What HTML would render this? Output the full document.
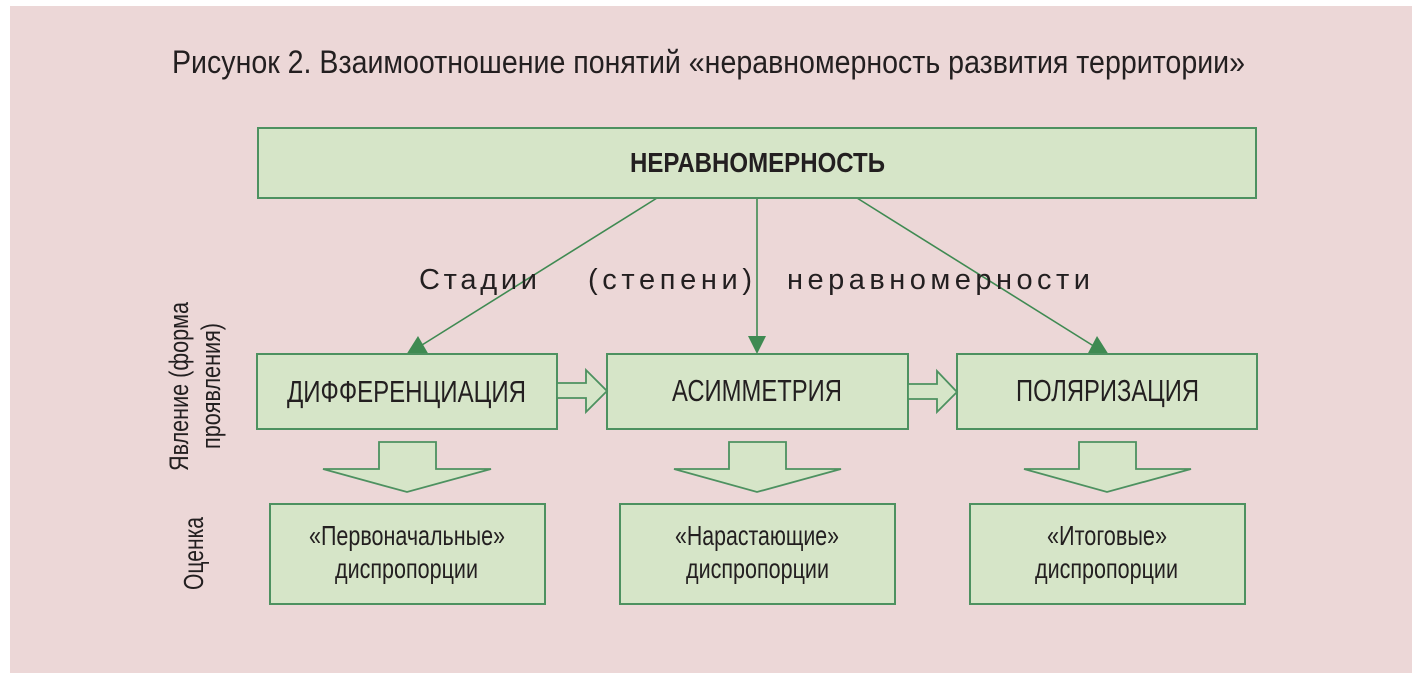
<!DOCTYPE html>
<html>
<head>
<meta charset="utf-8">
<style>
  html, body { margin: 0; padding: 0; background: #ffffff; }
  svg { display: block; }
  text { font-family: "Liberation Sans", "DejaVu Sans", sans-serif; fill: #231f20; }
</style>
</head>
<body>
<svg width="1426" height="686" viewBox="0 0 1426 686" xmlns="http://www.w3.org/2000/svg">
  <rect x="0" y="0" width="1426" height="686" fill="#ffffff"/>
  <rect x="10" y="6" width="1402" height="667" fill="#ecd7d7"/>

  <!-- Title -->
  <text x="172" y="73" font-size="32" textLength="1073" lengthAdjust="spacingAndGlyphs">Рисунок 2. Взаимоотношение понятий «неравномерность развития территории»</text>

  <!-- connectors from top box -->
  <g stroke="#3f8a52" stroke-width="1.6" fill="none">
    <line x1="657" y1="198" x2="414" y2="350"/>
    <line x1="757" y1="198" x2="757" y2="340"/>
    <line x1="857" y1="198" x2="1100" y2="350"/>
  </g>
  <g fill="#3f8a52">
    <polygon points="406,355 418,336 429,355"/>
    <polygon points="748,336 766,336 757,354"/>
    <polygon points="1087,355 1097,336 1109,355"/>
  </g>

  <!-- Top box -->
  <rect x="258" y="128" width="998" height="70" fill="#d6e5c8" stroke="#4d9160" stroke-width="2"/>
  <text x="757.5" y="172" font-size="28" font-weight="bold" text-anchor="middle" textLength="255" lengthAdjust="spacingAndGlyphs">НЕРАВНОМЕРНОСТЬ</text>

  <!-- Stages label -->
  <text x="419" y="289" font-size="29" textLength="118" lengthAdjust="spacing">Стадии</text>
  <text x="588" y="289" font-size="29" textLength="164" lengthAdjust="spacing">(степени)</text>
  <text x="787" y="289" font-size="29" textLength="303" lengthAdjust="spacing">неравномерности</text>

  <!-- Vertical labels -->
  <text transform="translate(188,471) rotate(-90)" font-size="27" textLength="169" lengthAdjust="spacingAndGlyphs">Явление (форма</text>
  <text transform="translate(220,449) rotate(-90)" font-size="27" textLength="126" lengthAdjust="spacingAndGlyphs">проявления)</text>
  <text transform="translate(203,590) rotate(-90)" font-size="28" textLength="73" lengthAdjust="spacingAndGlyphs">Оценка</text>

  <!-- Middle row boxes -->
  <g fill="#d6e5c8" stroke="#4d9160" stroke-width="2">
    <rect x="257" y="354" width="300" height="75"/>
    <rect x="607" y="354" width="301" height="75"/>
    <rect x="957" y="354" width="300" height="75"/>
  </g>
  <text x="406.5" y="402" font-size="31" text-anchor="middle" textLength="239" lengthAdjust="spacingAndGlyphs">ДИФФЕРЕНЦИАЦИЯ</text>
  <text x="757" y="401" font-size="31" text-anchor="middle" textLength="170" lengthAdjust="spacingAndGlyphs">АСИММЕТРИЯ</text>
  <text x="1107.5" y="401" font-size="31" text-anchor="middle" textLength="183" lengthAdjust="spacingAndGlyphs">ПОЛЯРИЗАЦИЯ</text>

  <!-- Right block arrows -->
  <g fill="#d6e5c8" stroke="#4d9160" stroke-width="1.8" stroke-linejoin="miter">
    <polygon points="557,383 586,383 586,370 607,391 586,412 586,398 557,398"/>
    <polygon points="908,384 937,384 937,371 957,392 937,412 937,399 908,399"/>
  </g>

  <!-- Down block arrows -->
  <g fill="#d6e5c8" stroke="#4d9160" stroke-width="1.8">
    <polygon points="379,442 436,442 436,469 491,469 407,492 323,469 379,469"/>
    <polygon points="729,442 786,442 786,469 841,469 757,492 674,469 729,469"/>
    <polygon points="1079,442 1136,442 1136,469 1191,469 1107,492 1024,469 1079,469"/>
  </g>

  <!-- Bottom boxes -->
  <g fill="#d6e5c8" stroke="#4d9160" stroke-width="2">
    <rect x="270" y="504" width="275" height="100"/>
    <rect x="620" y="504" width="275" height="100"/>
    <rect x="970" y="504" width="275" height="100"/>
  </g>
  <text x="407" y="545" font-size="28" text-anchor="middle" textLength="196" lengthAdjust="spacingAndGlyphs">«Первоначальные»</text>
  <text x="406.5" y="578" font-size="28" text-anchor="middle" textLength="143" lengthAdjust="spacingAndGlyphs">диспропорции</text>
  <text x="757" y="545" font-size="28" text-anchor="middle" textLength="164" lengthAdjust="spacingAndGlyphs">«Нарастающие»</text>
  <text x="757.5" y="578" font-size="28" text-anchor="middle" textLength="143" lengthAdjust="spacingAndGlyphs">диспропорции</text>
  <text x="1107" y="545" font-size="28" text-anchor="middle" textLength="120" lengthAdjust="spacingAndGlyphs">«Итоговые»</text>
  <text x="1106.5" y="578" font-size="28" text-anchor="middle" textLength="143" lengthAdjust="spacingAndGlyphs">диспропорции</text>
</svg>
</body>
</html>
